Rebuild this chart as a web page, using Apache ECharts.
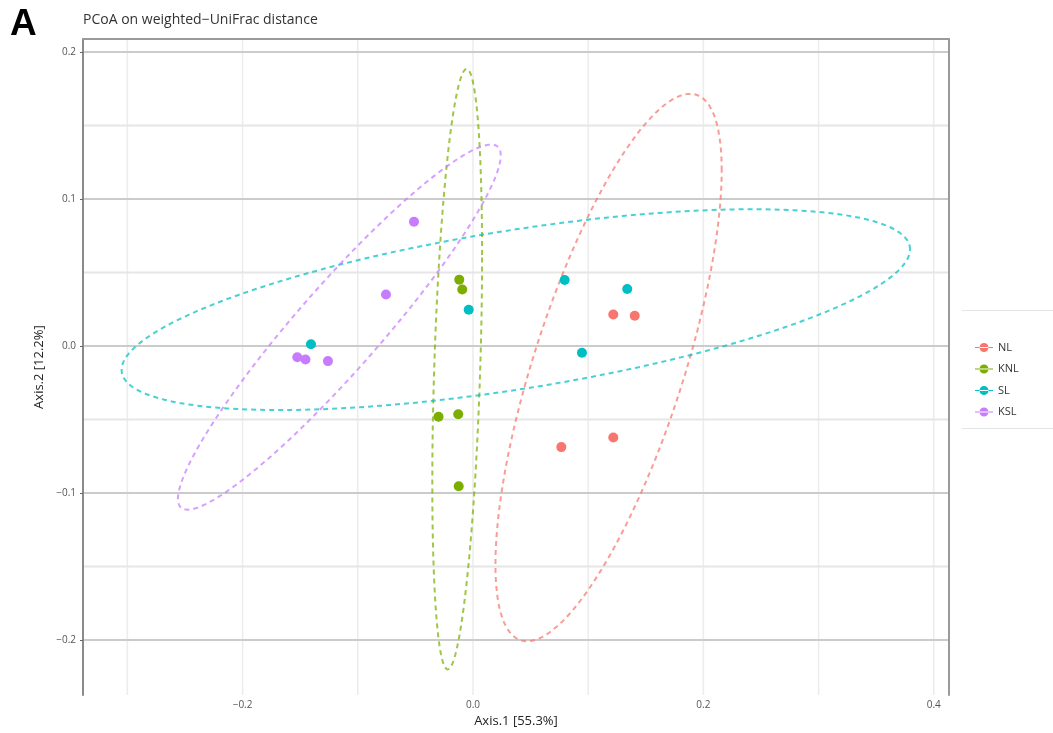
<!DOCTYPE html>
<html><head><meta charset="utf-8">
<script src="https://cdn.jsdelivr.net/npm/echarts@6/dist/echarts.min.js"></script>
<style>html,body{margin:0;padding:0;background:#fff}#chart{width:1053px;height:733px}</style>
</head><body><div id="chart"></div>
<script>
// ---- data ----
const groups = ['NL', 'KNL', 'SL', 'KSL'];
const groupColors = ['#F8766D', '#7CAE00', '#00BFC4', '#C77CFF'];
const nlPoints  = [[0.1218, 0.0215], [0.1404, 0.0207], [0.0767, -0.0687], [0.1218, -0.0622]];
const knlPoints = [[-0.0119, 0.0452], [-0.0093, 0.0385], [-0.0299, -0.0481], [-0.0128, -0.0464], [-0.0124, -0.0953]];
const slPoints  = [[0.0796, 0.0450], [0.1339, 0.0389], [-0.0037, 0.0247], [0.0946, -0.0045], [-0.1406, 0.0012]];
const kslPoints = [[-0.0512, 0.0846], [-0.0755, 0.0351], [-0.1525, -0.0076], [-0.1454, -0.0091], [-0.1259, -0.0102]];
// 95% ellipses: centre, half-extent in x and y, correlation
const ellipseCx  = [0.1177, -0.0137, 0.0372, -0.1160];
const ellipseCy  = [-0.0146, -0.0157, 0.0248, 0.0129];
const ellipseRx  = [0.0982, 0.0216, 0.3422, 0.1401];
const ellipseRy  = [0.1862, 0.2042, 0.0683, 0.1242];
const ellipseRho = [0.72, 0.38, 0.60, 0.94];
// ticks
const xTicks = [-0.2, 0.0, 0.2, 0.4];
const xMinorTicks = [-0.3, -0.1, 0.1, 0.3];
const yTicks = [-0.2, -0.1, 0.0, 0.1, 0.2];
const yMinorTicks = [-0.15, -0.05, 0.05, 0.15];
const titleText = 'PCoA on weighted\u2212UniFrac distance';
const xName = 'Axis.1 [55.3%]';
const yName = 'Axis.2 [12.2%]';

// ---- layout constants ----
const X_MIN = -0.3385, X_MAX = 0.4132, Y_MIN = -0.2374, Y_MAX = 0.2089;
const FONT = '"Open Sans", "DejaVu Sans", sans-serif';
const fmt = v => (Math.abs(v) < 1e-9 ? '0.0' : v.toFixed(1)).replace('-', '\u2212');

const allPoints = [nlPoints, knlPoints, slPoints, kslPoints];

// gridline items: [value, isVertical(1/0), isMajor(1/0)]
const gridItems = [];
xTicks.forEach(v => gridItems.push([v, 1, 1]));
xMinorTicks.forEach(v => gridItems.push([v, 1, 0]));
yMinorTicks.forEach(v => gridItems.push([v, 0, 0]));
yTicks.forEach(v => gridItems.push([v, 0, 1]));

const chart = echarts.init(document.getElementById('chart'), null, {renderer: 'canvas'});

const series = [];
series.push({
  type: 'custom', name: 'grid', silent: true, z: 0,
  data: gridItems,
  renderItem: function (params, api) {
    const v = api.value(0), vert = api.value(1), major = api.value(2);
    let p1, p2, color, w;
    if (vert) {
      p1 = api.coord([v, Y_MIN]); p2 = api.coord([v, Y_MAX]);
      color = '#ececec'; w = 1.5;
    } else {
      p1 = api.coord([X_MIN, v]); p2 = api.coord([X_MAX, v]);
      color = major ? '#cbcbcb' : '#e6e6e6'; w = 2;
    }
    return {type: 'line', shape: {x1: p1[0], y1: p1[1], x2: p2[0], y2: p2[1]},
            style: {stroke: color, lineWidth: w}};
  }
});

groups.forEach((g, i) => {
  series.push({
    type: 'custom', name: g + ' ellipse', silent: true, z: 2,
    data: [[ellipseCx[i], ellipseCy[i], ellipseRx[i], ellipseRy[i], ellipseRho[i]]],
    encode: {x: 0, y: 1},
    renderItem: function (params, api) {
      const cx = api.value(0), cy = api.value(1), rx = api.value(2), ry = api.value(3), rho = api.value(4);
      const s = Math.sqrt(1 - rho * rho);
      const pts = [];
      const N = 160;
      for (let k = 0; k <= N; k++) {
        const t = 2 * Math.PI * k / N;
        pts.push(api.coord([cx + rx * Math.cos(t), cy + ry * (rho * Math.cos(t) + s * Math.sin(t))]));
      }
      return {type: 'polyline', shape: {points: pts},
              style: {stroke: groupColors[i], fill: null, lineWidth: 2, lineDash: [5, 4], opacity: 0.72}};
    }
  });
});

groups.forEach((g, i) => {
  series.push({
    type: 'scatter', name: g, z: 3,
    data: allPoints[i],
    symbol: 'circle', symbolSize: 10,
    itemStyle: {color: groupColors[i], opacity: 1},
    emphasis: {disabled: true}
  });
});

const legendIcon = 'path://M0,4H18V5H0Z M4.5,4.5A4.5,4.5,0,1,0,13.5,4.5A4.5,4.5,0,1,0,4.5,4.5Z';

chart.setOption({
  animation: false,
  backgroundColor: '#ffffff',
  color: groupColors,
  textStyle: {fontFamily: FONT},
  title: {
    text: titleText, left: 78, top: 8,
    textStyle: {fontFamily: FONT, fontSize: 14, fontWeight: 'normal', color: '#333333'}
  },
  grid: {left: 83, right: 104, top: 39, bottom: 35, containLabel: false},
  legend: {
    data: groups, orient: 'vertical', left: 970, top: 337,
    itemWidth: 18, itemHeight: 9, itemGap: 10.5, icon: legendIcon,
    textStyle: {fontFamily: FONT, fontSize: 11, color: '#333333'},
    selectedMode: false
  },
  xAxis: [{
    type: 'value', min: X_MIN, max: X_MAX, position: 'bottom',
    name: xName, nameLocation: 'middle', nameGap: 16,
    nameTextStyle: {fontFamily: FONT, fontSize: 13, color: '#222222'},
    axisLine: {show: false}, axisTick: {show: false, customValues: xTicks},
    splitLine: {show: false},
    axisLabel: {customValues: xTicks, formatter: fmt, margin: 5, fontSize: 10, color: '#555555', fontFamily: FONT}
  }, {
    type: 'value', min: 0, max: 1, position: 'top',
    axisLine: {show: true, onZero: false, lineStyle: {color: '#9a9a9a', width: 2}},
    axisTick: {show: false}, axisLabel: {show: false}, splitLine: {show: false}
  }],
  yAxis: [{
    type: 'value', min: Y_MIN, max: Y_MAX, position: 'left',
    name: yName, nameLocation: 'middle', nameGap: 34, nameRotate: 90,
    nameTextStyle: {fontFamily: FONT, fontSize: 13, color: '#222222'},
    axisLine: {show: true, onZero: false, lineStyle: {color: '#8a8a8a', width: 2}},
    axisTick: {show: true, customValues: yTicks, length: 3, lineStyle: {color: '#666666', width: 1}},
    splitLine: {show: false},
    axisLabel: {customValues: yTicks, formatter: fmt, margin: 7, fontSize: 10, color: '#555555', fontFamily: FONT}
  }, {
    type: 'value', min: 0, max: 1, position: 'right',
    axisLine: {show: true, onZero: false, lineStyle: {color: '#9a9a9a', width: 2}},
    axisTick: {show: false}, axisLabel: {show: false}, splitLine: {show: false}
  }],
  graphic: [
    {type: 'text', left: 10, top: 6, style: {text: 'A', font: 'bold 37px "Liberation Sans", Arial, sans-serif', fill: '#000000'}},
    {type: 'line', shape: {x1: 962, y1: 310.5, x2: 1053, y2: 310.5}, style: {stroke: '#e4e4e4', lineWidth: 1}},
    {type: 'line', shape: {x1: 962, y1: 428.5, x2: 1053, y2: 428.5}, style: {stroke: '#e4e4e4', lineWidth: 1}}
  ],
  series: series
});
</script>
</body></html>
